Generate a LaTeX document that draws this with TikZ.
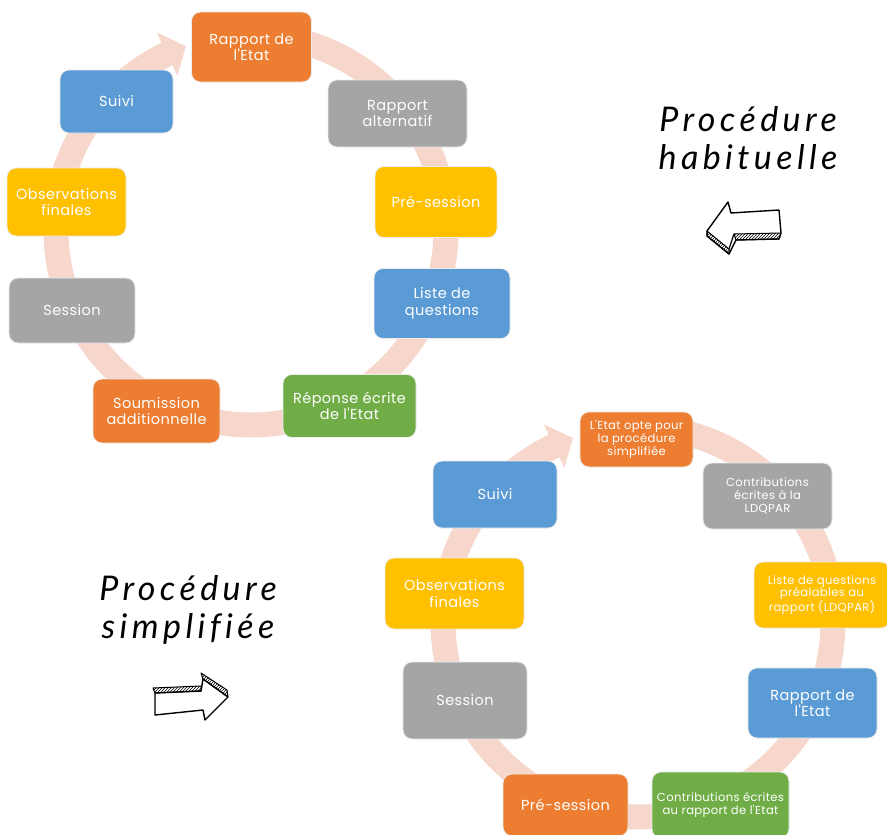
\documentclass[tikz,border=0pt]{standalone}
\usepackage{fontspec}
\setmainfont{Lato}
\newfontfamily\boxfont[LetterSpace=3,Ligatures={NoCommon}]{Poppins}
\newfontfamily\titlefont[LetterSpace=13,Ligatures={NoCommon}]{Lato}
\usetikzlibrary{patterns}
\definecolor{orng}{HTML}{ED7D31}
\definecolor{gry}{HTML}{A5A5A5}
\definecolor{ylw}{HTML}{FFC000}
\definecolor{blu}{HTML}{5B9BD5}
\definecolor{grn}{HTML}{70AD47}
\definecolor{ringc}{HTML}{F7D7CC}
\begin{document}
\begin{tikzpicture}[x=1pt,y=-1pt,
 stage/.style={rounded corners=9pt, draw=white!85!gray, line width=0.8pt, text=white, align=center, inner sep=0pt, font=\boxfont\fontsize{14.5}{16.5}\selectfont},
 small/.style={font=\boxfont\fontsize{11.6}{12.7}\selectfont},
 ringarc/.style={draw=ringc, line width=25pt},
 ringhead/.style={fill=ringc},
 titletext/.style={font=\titlefont\itshape\fontsize{34}{38}\selectfont, align=center},
 sketch/.style={draw=black, line width=1.4pt, line join=round, fill=white},
 hatch/.style={pattern=north east lines, draw=black, line width=1pt, line join=round}
]
\fill[white] (0,0) rectangle (887,835);
\clip (0,0) rectangle (887,835);
% ---------- top cycle ----------
\coordinate (tc) at (251,230);
\draw[ringarc] ([shift={(-90:195)}]tc) arc[start angle=-90, end angle=245, radius=195];
\fill[ringhead] ([shift={(244.5:219)}]tc) -- ([shift={(250.5:195)}]tc) -- ([shift={(244.5:171)}]tc) -- cycle;

\node[stage, fill=orng, minimum width=120pt, minimum height=70pt] (t1) at (251.5,47) {Rapport de\\l'Etat};
\node[stage, fill=gry, minimum width=139pt, minimum height=67pt] (t2) at (397.5,113.5) {Rapport\\alternatif};
\node[stage, fill=ylw, minimum width=122pt, minimum height=71pt] (t3) at (436,202) {Pré-session};
\node[stage, fill=blu, minimum width=136pt, minimum height=70pt] (t4) at (442,303.5) {Liste de\\questions};
\node[stage, fill=grn, minimum width=133pt, minimum height=63pt] (t5) at (349.5,406) {Réponse écrite\\de l'Etat};
\node[stage, fill=orng, minimum width=127pt, minimum height=64pt] (t6) at (156.5,411) {Soumission\\additionnelle};
\node[stage, fill=gry, minimum width=126pt, minimum height=65pt] (t7) at (72,310.5) {Session};
\node[stage, fill=ylw, minimum width=119pt, minimum height=68pt] (t8) at (66.5,202) {Observations\\finales};
\node[stage, fill=blu, minimum width=113pt, minimum height=63pt] (t9) at (116.5,101.5) {Suivi};

% ---------- bottom cycle ----------
\coordinate (bc) at (638,622);
\draw[ringarc] ([shift={(-90:195)}]bc) arc[start angle=-90, end angle=245, radius=195];
\fill[ringhead] ([shift={(244.5:219)}]bc) -- ([shift={(250.5:195)}]bc) -- ([shift={(244.5:171)}]bc) -- cycle;

\node[stage, small, fill=orng, minimum width=113pt, minimum height=55pt] (b1) at (636.5,439.5) {L'Etat opte pour\\la procédure\\simplifiée};
\node[stage, small, fill=gry, minimum width=129pt, minimum height=66pt] (b2) at (767.5,496) {Contributions\\écrites à la\\LDQPAR};
\node[stage, small, fill=ylw, minimum width=136pt, minimum height=66pt] (b3) at (822,595) {Liste de questions\\préalables au\\rapport (LDQPAR)};
\node[stage, fill=blu, minimum width=129pt, minimum height=70pt] (b4) at (812.5,703) {Rapport de\\l'Etat};
\node[stage, small, fill=grn, minimum width=137pt, minimum height=66pt] (b5) at (720.5,805) {Contributions écrites\\au rapport de l'Etat};
\node[stage, fill=orng, minimum width=125pt, minimum height=62pt] (b6) at (565.5,805) {Pré-session};
\node[stage, fill=gry, minimum width=124pt, minimum height=77pt] (b7) at (465,700.5) {Session};
\node[stage, fill=ylw, minimum width=139pt, minimum height=71pt] (b8) at (454.5,593.5) {Observations\\finales};
\node[stage, fill=blu, minimum width=124pt, minimum height=67pt] (b9) at (495,494.5) {Suivi};

% ---------- titles ----------
\node[titletext] (h1) at (748,138) {Procédure\\habituelle};
\node[titletext] (h2) at (188,610) {Procédure\\simplifiée};

% ---------- sketched arrows ----------
% left arrow (habituelle)
\draw[sketch] (707,231) -- (728,202) -- (731,213) -- (779,210) -- (781,233) -- (779,239) -- (736,240) -- (729,254) -- (707,236) -- cycle;
\draw[hatch] (707,231) -- (729,249) -- (729,254) -- (707,236) -- cycle;
\draw[hatch] (734,234) -- (781,233) -- (779,239) -- (736,240) -- cycle;
\draw[black, line width=1.2pt] (729,249) -- (734,234);
% right arrow (simplifiee)
\draw[sketch] (155,693) -- (201,691) -- (203,679) -- (228,697) -- (205,720) -- (203,710) -- (155,715) -- cycle;
\draw[hatch] (153,688) -- (201,686) -- (201,691) -- (155,693) -- cycle;
\draw[hatch] (201,673) -- (227,690) -- (228,697) -- (203,679) -- cycle;
\end{tikzpicture}
\end{document}
